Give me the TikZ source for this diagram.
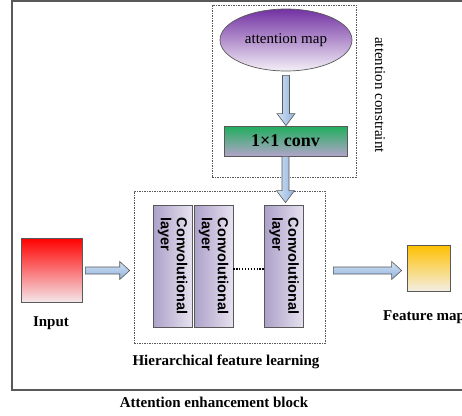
\documentclass[tikz,border=0pt]{standalone}
\usepackage{fontspec}
\setmainfont{Liberation Serif}
\setsansfont{Liberation Sans}
\usetikzlibrary{shapes.geometric,calc}

\definecolor{edgegray}{HTML}{595959}
\definecolor{arrowA}{HTML}{D3E2F4}
\definecolor{arrowB}{HTML}{8FB2DC}
\definecolor{amapTop}{HTML}{7332A3}
\definecolor{amapBot}{HTML}{F3EFF7}
\definecolor{convTop}{HTML}{1FAE5C}
\definecolor{convBot}{HTML}{B2A4C9}
\definecolor{layerL}{HTML}{ADA1C9}
\definecolor{layerR}{HTML}{E6E2EF}
\definecolor{inTop}{HTML}{FF0000}
\definecolor{inBot}{HTML}{F4E6E9}
\definecolor{fmTop}{HTML}{FFC000}
\definecolor{fmBot}{HTML}{F3EEE3}

\tikzset{
  blockarrow/.style={draw=edgegray, line width=0.6pt, line join=miter},
  dashbox/.style={draw=edgegray, line width=0.6pt, dash pattern=on 1.5pt off 1pt, rectangle, inner sep=0pt},
  solidshape/.style={draw=edgegray, line width=0.7pt, inner sep=0pt},
  convlayer/.style={solidshape, rectangle, minimum width=39pt, minimum height=122pt,
    left color=layerL, right color=layerR},
  convtext/.style={rotate=-90, align=left, font=\sffamily\bfseries\fontsize{14.5}{16}\selectfont, inner sep=0pt},
  lbl/.style={font=\bfseries\fontsize{15}{17}\selectfont, inner sep=0pt},
}

% hollow block arrow pointing down: shaft starts at #1, tip at the height of #2
\newcommand\blkdown[2]{%
  \path[blockarrow, left color=arrowA, right color=arrowB] let \p1=(#1), \p2=(#2) in
    (\x1-3.5pt,\y1) -- (\x1+3.5pt,\y1) -- (\x1+3.5pt,\y2+12pt) -- (\x1+9pt,\y2+12pt)
    -- (\x1,\y2) -- (\x1-9pt,\y2+12pt) -- (\x1-3.5pt,\y2+12pt) -- cycle;}
% hollow block arrow pointing right: shaft starts at #1, tip at the abscissa of #2
\newcommand\blkright[2]{%
  \path[blockarrow, top color=arrowA, bottom color=arrowB] let \p1=(#1), \p2=(#2) in
    (\x1,\y1+3.5pt) -- (\x2-10pt,\y1+3.5pt) -- (\x2-10pt,\y1+9pt) -- (\x2,\y1)
    -- (\x2-10pt,\y1-9pt) -- (\x2-10pt,\y1-3.5pt) -- (\x1,\y1-3.5pt) -- cycle;}

\begin{document}
\begin{tikzpicture}[x=1pt,y=-1pt]
\useasboundingbox (0,0) rectangle (462,415);

% outer block frame
\draw[edgegray, line width=1.5pt] (480,1) -- (12,1) -- (12,390) -- (480,390);

% attention constraint branch
\node[dashbox, minimum width=144pt, minimum height=172pt] (attbox) at (284,91) {};
\node[solidshape, ellipse, minimum width=132pt, minimum height=62pt,
      top color=amapTop, bottom color=amapBot,
      font=\fontsize{15}{17}\selectfont] (amap) at (286,40) {attention map};
\node[solidshape, rectangle, minimum width=123pt, minimum height=30pt,
      top color=convTop, bottom color=convBot,
      font=\bfseries\fontsize{18}{20}\selectfont] (conv) at (285.5,141) {1\texttimes 1 conv};
\node[rotate=-90, font=\fontsize{15}{17}\selectfont, inner sep=0pt] (attlbl) at (380,95) {attention constraint};

% hierarchical feature learning
\node[dashbox, minimum width=191pt, minimum height=152pt] (hier) at (229.5,267) {};
\node[convlayer] (c1) at (172.5,266) {};
\node[convlayer] (c2) at (213.5,266) {};
\node[convlayer] (c3) at (284,266) {};
\node[convtext] (t1) at (c1) {Convolutional\\layer};
\node[convtext] (t2) at (c2) {Convolutional\\layer};
\node[convtext] (t3) at (c3) {Convolutional\\layer};
\draw[line width=1.3pt, dash pattern=on 1.3pt off 1.6pt] ([yshift=-3pt]c2.east) -- ([yshift=-3pt]c3.west);

% input and output
\node[solidshape, rectangle, minimum width=61pt, minimum height=64pt,
      top color=inTop, bottom color=inBot] (input) at (51.5,270) {};
\node[solidshape, rectangle, minimum width=43pt, minimum height=46pt,
      top color=fmTop, bottom color=fmBot] (feat) at (428.5,268) {};

% labels
\node[lbl] (inlbl) at (51,323) {Input};
\node[lbl, anchor=west] (fmlbl) at (383,317) {Feature map};
\node[lbl] (hierlbl) at (226,362) {Hierarchical feature learning};
\node[lbl] (blocklbl) at (214,402) {Attention enhancement block};

% connectors
\blkdown{$(amap.south)+(0,4)$}{conv.north}
\blkdown{conv.south}{$(c3.north)+(0,-2)$}
\blkright{$(input.east)+(3,0.5)$}{$(hier.west)+(-4,0)$}
\blkright{$(hier.east |- input.east)+(8,0.5)$}{$(feat.west)+(-5,0)$}
\end{tikzpicture}
\end{document}
